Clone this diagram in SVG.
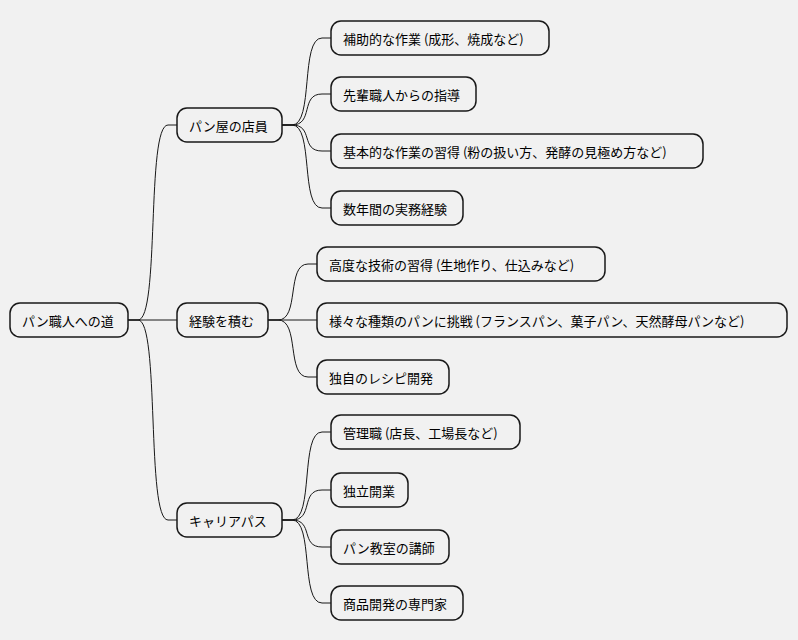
<svg xmlns="http://www.w3.org/2000/svg" width="798" height="640" viewBox="0 0 798 640">
<style>
rect{fill:#F1F1F1;stroke:#181818;stroke-width:1.5}
text{font-family:"Noto Sans CJK JP","Liberation Sans",sans-serif;font-size:13px;fill:#000;dominant-baseline:central}
.c path{fill:none;stroke:#181818;stroke-width:1}
</style>
<rect width="798" height="640" fill="#fff" style="stroke:none"/>
<g class="c">
<path d="M128,320 L138,320 C160,320 146,125 168,125 L177,125"/>
<path d="M128,320 L177,320"/>
<path d="M128,320 L138,320 C160,320 146,520 168,520 L177,520"/>
<path d="M282,125 L292,125 C314,125 300,38 322,38 L331,38"/>
<path d="M282,125 L292,125 C314,125 300,94 322,94 L331,94"/>
<path d="M282,125 L292,125 C314,125 300,151 322,151 L331,151"/>
<path d="M282,125 L292,125 C314,125 300,208 322,208 L331,208"/>
<path d="M268,320 L278,320 C300,320 286,264 308,264 L317,264"/>
<path d="M268,320 L317,320"/>
<path d="M268,320 L278,320 C300,320 286,377 308,377 L317,377"/>
<path d="M282,520 L292,520 C314,520 300,432 322,432 L331,432"/>
<path d="M282,520 L292,520 C314,520 300,490 322,490 L331,490"/>
<path d="M282,520 L292,520 C314,520 300,547 322,547 L331,547"/>
<path d="M282,520 L292,520 C314,520 300,603 322,603 L331,603"/>
</g>
<g id="root"><rect x="10" y="303" width="118" height="34" rx="10"/><text x="22" y="320">パン職人への道</text></g>
<g id="n1"><rect x="177" y="108" width="105" height="34" rx="10"/><text x="189" y="125">パン屋の店員</text></g>
<g id="n2"><rect x="177" y="303" width="91" height="34" rx="10"/><text x="189" y="320">経験を積む</text></g>
<g id="n3"><rect x="177" y="503" width="105" height="34" rx="10"/><text x="189" y="520">キャリアパス</text></g>
<g id="n11"><rect x="331" y="21" width="218" height="34" rx="10"/><text x="343" y="38">補助的な作業 (成形、焼成など)</text></g>
<g id="n12"><rect x="331" y="77" width="145" height="34" rx="10"/><text x="343" y="94">先輩職人からの指導</text></g>
<g id="n13"><rect x="331" y="134" width="372" height="34" rx="10"/><text x="343" y="151">基本的な作業の習得 (粉の扱い方、発酵の見極め方など)</text></g>
<g id="n14"><rect x="331" y="191" width="132" height="34" rx="10"/><text x="343" y="208">数年間の実務経験</text></g>
<g id="n21"><rect x="317" y="247" width="288" height="34" rx="10"/><text x="329" y="264">高度な技術の習得 (生地作り、仕込みなど)</text></g>
<g id="n22"><rect x="317" y="303" width="470" height="34" rx="10"/><text x="329" y="320">様々な種類のパンに挑戦 (フランスパン、菓子パン、天然酵母パンなど)</text></g>
<g id="n23"><rect x="317" y="360" width="132" height="34" rx="10"/><text x="329" y="377">独自のレシピ開発</text></g>
<g id="n31"><rect x="331" y="415" width="189" height="34" rx="10"/><text x="343" y="432">管理職 (店長、工場長など)</text></g>
<g id="n32"><rect x="331" y="473" width="77" height="34" rx="10"/><text x="343" y="490">独立開業</text></g>
<g id="n33"><rect x="331" y="530" width="118" height="34" rx="10"/><text x="343" y="547">パン教室の講師</text></g>
<g id="n34"><rect x="331" y="586" width="132" height="34" rx="10"/><text x="343" y="603">商品開発の専門家</text></g>
</svg>
